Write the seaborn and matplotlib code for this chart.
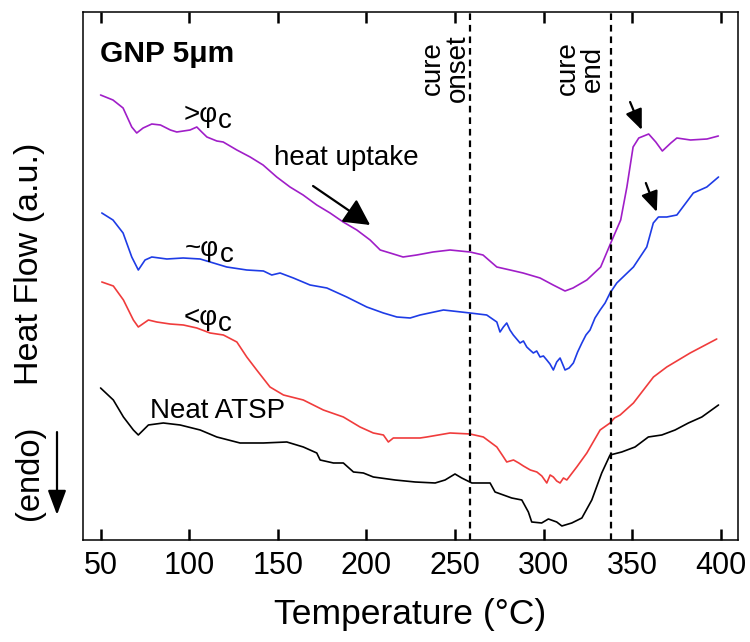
import pandas as pd
import matplotlib
matplotlib.use('Agg')
import matplotlib.pyplot as plt
from matplotlib.patches import FancyArrowPatch
import seaborn as sns

# DSC traces (temperature in C, heat flow in arbitrary units)
t_above = [50, 57, 62.7, 67.6, 70.4, 74, 78.9, 83.8, 89.4, 93, 100.5, 104.3, 107.1, 110, 115.6,
           119.2, 126.9, 134.4, 141.7, 149.4, 156.9, 164.3, 172, 179.5, 186.9, 194.6, 202.1,
           207.8, 213.4, 220.7, 228.4, 237.6, 247.2, 258.5, 265.8, 273.6, 281.1, 288.4, 298,
           305.4, 312.1, 316.6, 324.4, 332.2, 337.9, 343.5, 347, 350.5, 353.7, 359.3, 363.3,
           367, 371.8, 375.2, 382.9, 392.2, 398.6]
hf_above = [445, 440, 432, 413, 407, 412, 416, 415, 410, 408, 410, 413, 408, 403, 399,
            398, 390, 383, 375, 363, 353, 345, 335, 327, 318, 310, 300,
            290, 287, 283, 285, 288, 290, 288, 285, 273, 270, 267, 262,
            255, 249, 252, 260, 273, 297, 320, 353, 393, 402, 406, 398,
            389, 397, 402, 400, 401, 404]

t_near = [50.7, 57, 62.7, 67.6, 71.3, 75.1, 78.9, 87.4, 96.6, 106.2, 113.7, 121.2, 132.5, 141.9,
          146.6, 151.3, 158.8, 168.2, 177.7, 188.9, 200.2, 209.6, 217.2, 224.7, 230.3, 243.5,
          258.5, 267.9, 273.6, 275.4, 277.3, 279.2, 281, 282.9, 284.8, 286.7, 288.6, 290.5,
          292.3, 294.2, 296.1, 298, 299.9, 301.8, 303.6, 305.5, 307.4, 309.3, 310.7, 312.1,
          314.4, 316.8, 319.2, 321.6, 323.9, 326.2, 329, 331.9, 334.7, 337.5, 341.3, 350.7,
          358.2, 361.9, 364.8, 369.5, 375.2, 384.5, 392.1, 398.7]
hf_near = [327, 320, 307, 283, 270, 280, 283, 281, 282, 281, 277, 273, 270, 269,
           265, 267, 262, 255, 252, 243, 233, 227, 223, 222, 225, 230,
           227, 225, 218, 208, 213, 217, 210, 205, 201, 197, 199, 193,
           190, 187, 189, 183, 184, 180, 176, 170, 178, 182, 176, 170,
           172, 177, 188, 197, 205, 210, 222, 230, 237, 247, 257, 273,
           293, 317, 323, 323, 325, 347, 353, 363]

t_below = [50.7, 57.2, 62.9, 68.5, 71.3, 77, 81.7, 89.2, 96.7, 104.3, 111.8, 119.3, 126.9, 132.5,
           138.1, 145.6, 153.2, 164.4, 175.7, 187, 196.4, 203.9, 209.6, 212.4, 215.2, 224.7,
           230.3, 234.1, 247.2, 258.5, 266, 273.6, 277, 279.2, 283, 286, 288.6, 292.5, 296.2,
           299, 301.8, 303.7, 305.5, 307.4, 309.3, 311.2, 313.1, 318.7, 324.4, 331.9, 337.5,
           340, 343.2, 350.7, 362, 369.5, 382.7, 397.7]
hf_below = [258, 254, 240, 220, 213, 220, 218, 216, 215, 212, 207, 205, 198, 183,
            170, 153, 145, 140, 130, 123, 113, 107, 105, 98, 102, 102,
            102, 103, 107, 106, 103, 93, 84, 78, 80, 77, 74, 70, 68,
            64, 57, 65, 63, 59, 57, 62, 60, 73, 87, 110, 117,
            122, 125, 137, 163, 173, 187, 201]

t_neat = [50, 57.2, 62.9, 68.5, 71.3, 77, 85.4, 94.9, 106.2, 115.6, 128.7, 141.9, 155.1, 164.4,
          172, 173.9, 181.4, 187, 192.7, 198.3, 203.9, 216.2, 227.5, 238.8, 244.4, 250,
          253.8, 259.5, 269.8, 272.6, 282, 287.7, 291.4, 293.3, 298.9, 302.7, 307.4, 310.3,
          315.9, 321.6, 327.2, 332.8, 337.5, 344.1, 351.6, 359.1, 366.7, 374.2, 381.7, 389.3,
          398.7]
hf_neat = [152, 140, 123, 110, 105, 115, 117, 115, 110, 103, 97, 97, 98, 93,
           87, 80, 77, 77, 68, 67, 63, 60, 58, 57, 60, 66,
           62, 57, 57, 48, 42, 40, 28, 18, 17, 21, 18, 14,
           17, 22, 40, 67, 85, 88, 93, 103, 105, 110, 117, 123,
           135]

series_names = ['above', 'near', 'below', 'neat']
colors = ['#A01EC8', '#1E3CE6', '#F03C3C', '#000000']
cure_onset = 258.5
cure_end = 338

frames = []
for name, t, hf in zip(series_names,
                       [t_above, t_near, t_below, t_neat],
                       [hf_above, hf_near, hf_below, hf_neat]):
    frames.append(pd.DataFrame({'T': t, 'HF': hf, 'sample': name}))
df = pd.concat(frames, ignore_index=True)

sns.set_style('ticks')
plt.rcParams['font.family'] = ['Liberation Sans', 'DejaVu Sans']
plt.rcParams['text.color'] = 'black'
plt.rcParams['axes.labelcolor'] = 'black'
plt.rcParams['axes.edgecolor'] = 'black'
plt.rcParams['xtick.color'] = 'black'
plt.rcParams['xtick.direction'] = 'in'
plt.rcParams['xtick.top'] = True

fig = plt.figure(figsize=(7.5, 6.42), dpi=100)
ax = fig.add_axes([0.1107, 0.1589, 0.8733, 0.8224])

sns.lineplot(data=df, x='T', y='HF', hue='sample', palette=dict(zip(series_names, colors)),
             estimator=None, sort=False, lw=1.2, legend=False, ax=ax)

ax.axvline(cure_onset, color='black', ls=(0, (3, 2.2)), lw=1.6)
ax.axvline(cure_end, color='black', ls=(0, (3, 2.2)), lw=1.6)

ax.set_xlim(40.1, 409.7)
ax.set_ylim(0, 528)
ax.set_xticks([50, 100, 150, 200, 250, 300, 350, 400])
ax.set_yticks([])
ax.tick_params(axis='x', direction='in', length=8, width=1.8, color='black', labelsize=22,
               pad=8, top=True, bottom=True, labeltop=False)
for s in ax.spines.values():
    s.set_linewidth(1.1)
    s.set_color('black')
ax.set_xlabel('Temperature (°C)', fontsize=25.5, labelpad=12)
ax.set_ylabel('')

# annotations
ax.text(49.7, 486, 'GNP 5μm', fontsize=21.5, fontweight='bold', va='center', ha='left')
for lab, tx, ty in [('>φ', 96.6, 425), ('~φ', 97.7, 291), ('<φ', 96.6, 222)]:
    ax.text(tx, ty, lab, fontsize=20, va='center', ha='left')
    ax.annotate('c', xy=(tx, ty), xytext=(25, -4), textcoords='offset points',
                fontsize=20, va='center', ha='left')
ax.text(77.9, 129, 'Neat ATSP', fontsize=20, va='center', ha='left')
ax.text(148, 382, 'heat uptake', fontsize=20, va='center', ha='left')
ax.text(244.5, 472, 'cure\nonset', fontsize=20, rotation=90, va='center', ha='center',
        ma='center', linespacing=0.95)
ax.text(320.6, 471.5, 'cure\nend', fontsize=20, rotation=90, va='center', ha='center',
        ma='center', linespacing=0.95)

big_arrow = dict(arrowstyle='-|>,head_length=0.8,head_width=0.42', color='black', lw=1.6,
                 mutation_scale=20, shrinkA=0, shrinkB=0)
small_arrow = dict(arrowstyle='-|>,head_length=0.62,head_width=0.26', color='black', lw=1.6,
                   mutation_scale=20, shrinkA=0, shrinkB=0)
ax.annotate('', xy=(202.1, 315), xytext=(169.9, 354), arrowprops=big_arrow)
ax.annotate('', xy=(355.4, 410), xytext=(348.8, 438), arrowprops=small_arrow)
ax.annotate('', xy=(363.9, 328), xytext=(357.7, 357), arrowprops=small_arrow)

fig.text(0.04, 0.589, 'Heat Flow (a.u.)', fontsize=24.5, rotation=90, va='center', ha='center')
fig.text(0.0387, 0.263, '(endo)', fontsize=23.5, rotation=90, va='center', ha='center')
fig.patches.append(FancyArrowPatch(
    (0.076, 0.327), (0.076, 0.198), transform=fig.transFigure,
    arrowstyle='-|>,head_length=0.75,head_width=0.28', color='black', lw=1.6,
    mutation_scale=20, shrinkA=0, shrinkB=0))

fig.savefig('out.png', dpi=100)
